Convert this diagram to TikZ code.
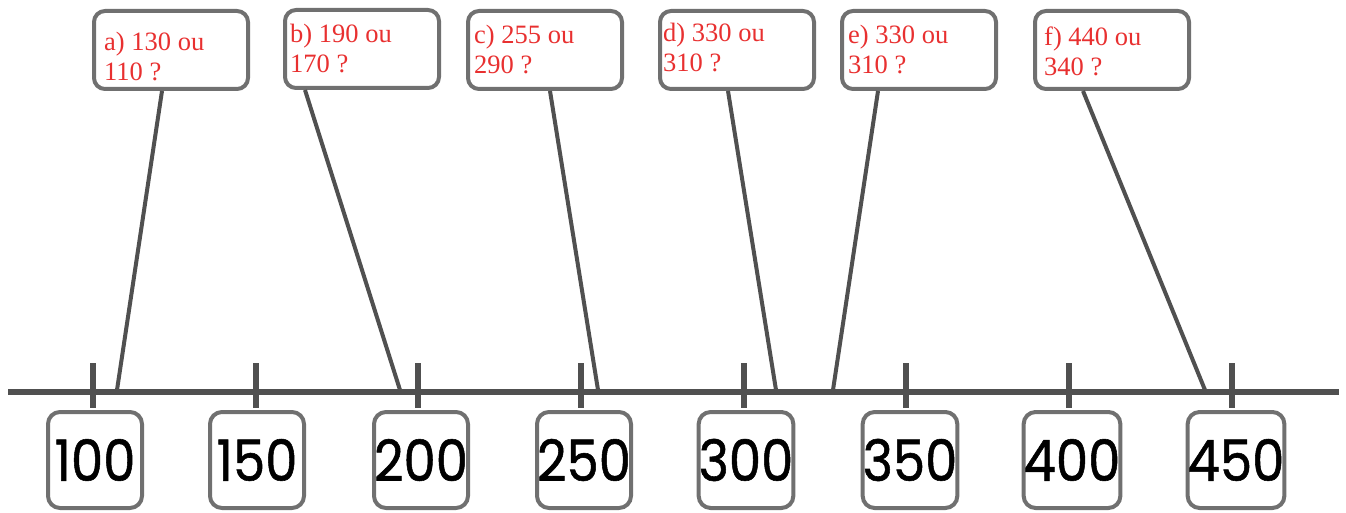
\documentclass[tikz,border=0pt]{standalone}
\usepackage{fontspec}
\setmainfont{Liberation Serif}
\newfontfamily\numfont[FakeBold=1]{Poppins}
\usepackage{tikz}

\definecolor{lineagray}{RGB}{80,80,80}
\definecolor{boxgray}{RGB}{112,112,112}
\definecolor{rosso}{RGB}{232,48,48}

\tikzset{
	domanda/.style={draw=boxgray, line width=4, rounded corners=11, minimum width=154, minimum height=78, inner sep=0},
	testo/.style={anchor=north west, inner sep=0, align=left, text=rosso, font=\fontsize{26.5}{30}\selectfont},
	numero/.style={draw=boxgray, line width=4, rounded corners=12, minimum width=94, minimum height=96, inner sep=0, font=\numfont\fontsize{57}{57}\selectfont},
	asse/.style={draw=lineagray, line width=6},
	filo/.style={draw=lineagray, line width=4}
}

\begin{document}
\begin{tikzpicture}[x=1pt, y=-1pt]
		\useasboundingbox (0,0) rectangle (1346,513);
		\begin{scope}
			% asse
			\coordinate (inizio) at (8,392);
			\coordinate (fine) at (1339,392);
			\draw[asse] (inizio) -- (fine);
			\foreach \x in {93,256,418,581,744,906,1069,1232}
				\draw[asse] (\x,363) -- (\x,408);

			% valori sotto l'asse
			\node[numero] (n100) at (95,460) {\scalebox{0.9}[1]{100}};
			\node[numero] (n150) at (257,460) {\scalebox{0.9}[1]{150}};
			\node[numero] (n200) at (421,460) {\scalebox{0.9}[1]{200}};
			\node[numero] (n250) at (584,460) {\scalebox{0.9}[1]{250}};
			\node[numero] (n300) at (746,460) {\scalebox{0.9}[1]{300}};
			\node[numero] (n350) at (910,460) {\scalebox{0.9}[1]{350}};
			\node[numero] (n400) at (1072,460) {\scalebox{0.9}[1]{400}};
			\node[numero] (n450) at (1236,460) {\scalebox{0.9}[1]{450}};

			% punti sull'asse
			\coordinate (pa) at (117,390);
			\coordinate (pb) at (400,390);
			\coordinate (pc) at (598,390);
			\coordinate (pd) at (776,390);
			\coordinate (pe) at (833,390);
			\coordinate (pf) at (1205,390);

			% domande
			\node[domanda] (qa) at (171,50) {};
			\node[domanda] (qb) at (362,49) {};
			\node[domanda] (qc) at (545,50) {};
			\node[domanda] (qd) at (737,50) {};
			\node[domanda] (qe) at (919,50) {};
			\node[domanda] (qf) at (1112,50) {};

			\node[testo] (ta) at (104,32) {a) 130 ou\\110 ?};
			\node[testo] (tb) at (290,24) {b) 190 ou\\170 ?};
			\node[testo] (tc) at (474,25) {c) 255 ou\\290 ?};
			\node[testo] (td) at (663,23) {d) 330 ou\\310 ?};
			\node[testo] (te) at (848,25) {e) 330 ou\\310 ?};
			\node[testo] (tf) at (1044,27) {f) 440 ou\\340 ?};

			% fili
			\draw[filo] ([xshift=-9]qa.south) -- (pa); % da a
			\draw[filo] ([xshift=-57]qb.south) -- (pb); % da b
			\draw[filo] ([xshift=5]qc.south) -- (pc); % da c
			\draw[filo] ([xshift=-9]qd.south) -- (pd); % da d
			\draw[filo] ([xshift=-41]qe.south) -- (pe); % da e
			\draw[filo] ([xshift=-29]qf.south) -- (pf); % da f
		\end{scope}
	\end{tikzpicture}
\end{document}
